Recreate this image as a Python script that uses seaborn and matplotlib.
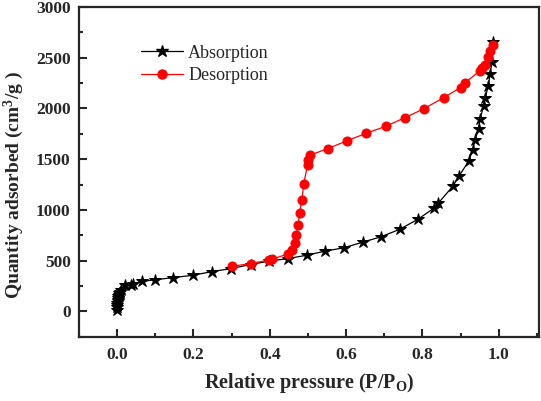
import matplotlib
matplotlib.use("Agg")
import matplotlib.pyplot as plt
import seaborn as sns
import pandas as pd
from matplotlib.ticker import MultipleLocator
from matplotlib.lines import Line2D

ads_x = [0.0002, 0.0004, 0.0006, 0.0008, 0.001, 0.0015, 0.002, 0.003, 0.004, 0.005,
         0.007, 0.01, 0.021, 0.036, 0.042, 0.064, 0.099, 0.146, 0.198, 0.248, 0.298,
         0.350, 0.397, 0.448, 0.497, 0.545, 0.594, 0.644, 0.692, 0.741, 0.789, 0.830,
         0.841, 0.880, 0.895, 0.921, 0.932, 0.938, 0.947, 0.951, 0.960, 0.964, 0.973,
         0.977, 0.982, 0.986]
ads_y = [10, 40, 65, 85, 100, 115, 130, 150, 165, 180,
         195, 215, 257, 262, 274, 295, 312, 333, 356, 392, 422,
         462, 495, 521, 554, 594, 627, 683, 736, 810, 910, 1017,
         1065, 1234, 1330, 1478, 1594, 1693, 1792, 1891, 2023, 2106, 2221,
         2336, 2452, 2650]

des_x = [0.302, 0.350, 0.397, 0.406, 0.449, 0.458, 0.465, 0.469, 0.474, 0.478,
         0.484, 0.489, 0.499, 0.501, 0.506, 0.552, 0.602, 0.653, 0.705, 0.754,
         0.804, 0.856, 0.900, 0.912, 0.951, 0.957, 0.964, 0.973, 0.977, 0.985]
des_y = [445, 472, 505, 515, 568, 605, 670, 752, 851, 965,
         1095, 1257, 1445, 1495, 1540, 1604, 1680, 1755, 1825, 1908,
         1997, 2106, 2205, 2254, 2370, 2400, 2430, 2502, 2560, 2620]

series_names = ["Absorption", "Desorption"]

sns.set_style("ticks")
plt.rcParams["font.family"] = ["Liberation Serif", "DejaVu Serif"]
plt.rcParams["mathtext.fontset"] = "custom"
plt.rcParams["mathtext.rm"] = "Liberation Serif"
plt.rcParams["mathtext.bf"] = "Liberation Serif:bold"
plt.rcParams["mathtext.it"] = "Liberation Serif:italic"

fig = plt.figure(figsize=(5.41, 4.01), dpi=100)
ax = fig.add_axes([0.146, 0.16, 0.85, 0.823])

df_a = pd.DataFrame({"x": ads_x, "y": ads_y})
df_d = pd.DataFrame({"x": des_x, "y": des_y})

sns.lineplot(data=df_a, x="x", y="y", ax=ax, color="black", lw=0.9,
             marker="*", markersize=9, markeredgecolor="black",
             markerfacecolor="black", estimator=None, sort=False)
sns.lineplot(data=df_d, x="x", y="y", ax=ax, color="red", lw=0.9,
             marker="o", markersize=6.5, markeredgecolor="red",
             markerfacecolor="red", estimator=None, sort=False)

ax.set_xlim(-0.1, 1.105)
ax.set_ylim(-250, 3000)
ax.xaxis.set_major_locator(MultipleLocator(0.2))
ax.xaxis.set_minor_locator(MultipleLocator(0.1))
ax.yaxis.set_major_locator(MultipleLocator(500))
ax.yaxis.set_minor_locator(MultipleLocator(250))
ax.xaxis.set_major_formatter(plt.FuncFormatter(lambda v, p: f"{v:.1f}"))

ax.tick_params(which="major", direction="in", length=6, width=1.5,
               top=False, right=False, labelsize=12.5, pad=7)
ax.tick_params(axis="y", which="major", pad=6)
ax.tick_params(which="minor", direction="in", length=3, width=1.5,
               top=False, right=False)
for lab in ax.get_xticklabels() + ax.get_yticklabels():
    lab.set_fontweight("bold")
for sp in ax.spines.values():
    sp.set_linewidth(1.6)
    sp.set_visible(True)

ax.set_xlabel(r"Relative pressure (P/P$_\mathbf{O}$)", fontsize=14.5,
              fontweight="bold")
ax.set_ylabel(r"Quantity adsorbed (cm$^\mathbf{3}$/g )", fontsize=14,
              fontweight="bold")
ax.xaxis.set_label_coords(0.5, -0.105)
ax.yaxis.set_label_coords(-0.115, 0.46)

handles = [
    Line2D([], [], color="black", lw=0.9, marker="*", markersize=9),
    Line2D([], [], color="red", lw=0.9, marker="o", markersize=6.5),
]
ax.legend(handles, series_names, loc="upper left", bbox_to_anchor=(0.1, 0.935),
          frameon=False, fontsize=13, handlelength=2.3, handletextpad=0.3,
          labelspacing=0.3)

fig.savefig("out.png", dpi=100)
